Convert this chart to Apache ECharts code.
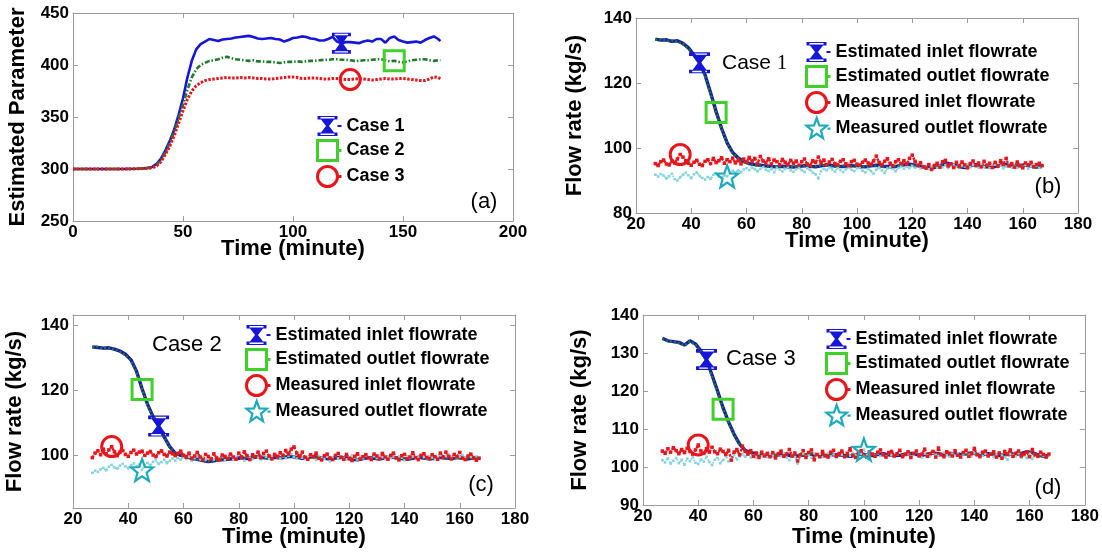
<!DOCTYPE html>
<html>
<head>
<meta charset="utf-8">
<script src="https://cdn.jsdelivr.net/npm/echarts@6/dist/echarts.min.js"></script>
<style>
html,body{margin:0;padding:0;background:#fff;}
#chart{width:1102px;height:552px;}
</style>
</head>
<body>
<div id="chart"></div>
<script>
// ---------- (a) estimated parameter for three cases ----------
const timeA = [0,10,20,30,33,36,38,40,42,44,46,48,50,52,54,56,58,60,62,64,66,68,70,72,74,76,78,80,82,84,86,88,90,92,94,96,98,100,102,104,106,108,110,112,114,116,118,120,122,124,126,128,130,132,134,136,138,140,142,144,146,148,150,152,154,156,158,160,162,164,166,167];
const case1 = [300,300,300,300.3,300.8,
  302,305,310,318,327,338,352,368,388,404,415,420,422.5,
  425,424,423,424.5,425,425.5,426.5,427,427.5,428,
  427,425.5,425,425.5,426,425,424.5,422.5,424,426,
  426.5,427.5,427,425.5,425,423.5,423.5,425,427,422.5,
  421,422,422,421.5,421,422.5,423.5,422.5,425,425,
  421.5,426,427.5,424,422.5,421.5,422,422.5,421.5,424,
  426,427.5,425,
  423];
const case2 = [300,300,300,300.2,300.6,
  301.5,304,309,316,325,336,349,362,376,388,396,400,402,
  404,404.5,405.5,407,408,406.5,405.5,405,404.5,404,
  404.5,403.5,403.5,403,403,402.5,402,402.5,403,403,
  403.5,403,403.5,404,404,404.5,405,405,405.5,405.5,
  405,405,404.5,404,404,404.5,404.5,405,405.5,405.5,
  404.5,403.5,404,403,402.5,403.5,404.5,405,405.5,405.5,
  404.5,404,404.5,
  404.5];
const case3 = [300,300,300,300.2,300.5,
  301,303,307,314,322,332,344,356,367,375,380,383,385,
  386,386.5,387,387.5,388,387.5,387.5,388,387.5,388,
  387.5,387,387,386.5,386.5,387,387.5,388,388.5,388.5,
  388,387,387,387.5,387.5,387,386.5,386.5,387,387,
  386.5,386,386,386.5,387,386.5,386,385.5,386,386.5,
  387,386.5,386.5,387,387,386.5,386,385.5,385,385,
  386.5,388.5,388,
  387];

// ---------- (b)-(d) flow rates ----------
const timeEst = [27,29,31,33,35,37,39,41,43,45,47,49,51,53,55,57,59,61,63,65,67,69,71,73,75,77,79,81,83,85,87,89,91,93,95,97,99,101,103,105,107,109,111,113,115,117,119,121,123,125,127,129,131,133,135,137,139,141,143,145,147,149,151,153,155,157,159,161,163,165,167];
const timeMeas = [27,28,29,30,31,32,33,34,35,36,37,38,39,40,41,42,43,44,45,46,47,48,49,50,51,52,53,54,55,56,57,58,59,60,61,62,63,64,65,66,67,68,69,70,71,72,73,74,75,76,77,78,79,80,81,82,83,84,85,86,87,88,89,90,91,92,93,94,95,96,97,98,99,100,101,102,103,104,105,106,107,108,109,110,111,112,113,114,115,116,117,118,119,120,121,122,123,124,125,126,127,128,129,130,131,132,133,134,135,136,137,138,139,140,141,142,143,144,145,146,147,148,149,150,151,152,153,154,155,156,157,158,159,160,161,162,163,164,165,166,167];

// Case 1
const estInletB = [133.5,133.2,133.3,132.8,133.0,132.2,130.8,128.6,126.2,122.5,
  117.0,111.2,106.0,101.6,98.6,96.9,95.9,95.2,94.9,94.7,
  94.5,94.3,94.2,94.4,94.3,94.1,94.3,94.6,94.4,94.2,
  94.5,94.8,94.6,94.4,94.3,94.6,94.5,94.3,94.2,94.5,
  94.7,94.4,94.3,94.1,94.5,94.8,95.0,94.7,94.4,94.1,
  93.8,94.2,94.9,95.3,94.8,94.2,94.0,94.5,94.9,94.6,
  94.2,94.1,94.5,95.0,94.7,94.3,94.6,94.9,94.4,94.1,
  94.3];
const estOutletB = [133.3,133.4,133.0,133.1,132.7,132.0,130.5,128.4,125.9,122.1,
  116.6,110.9,105.7,101.4,98.4,96.8,95.7,95.0,94.7,94.5,
  94.3,94.2,94.4,94.2,94.1,94.3,94.5,94.4,94.2,94.4,
  94.6,94.7,94.4,94.2,94.5,94.4,94.3,94.1,94.4,94.6,
  94.5,94.2,94.1,94.3,94.6,94.9,94.8,94.5,94.2,93.9,
  94.0,94.5,95.1,95.0,94.5,94.1,94.2,94.7,94.8,94.3,
  94.0,94.3,94.7,94.8,94.5,94.4,94.8,94.6,94.2,94.0,
  94.2];
const measInletB = [95.2,94.6,95.8,96.3,95.1,94.8,96.0,95.4,96.6,98.0,
  97.2,96.1,95.3,94.7,95.6,96.2,95.0,94.6,95.9,96.4,
  95.2,96.8,95.5,96.1,97.0,95.3,96.4,95.8,96.9,95.4,
  96.3,95.1,96.6,95.7,97.1,95.9,96.8,95.2,97.4,96.0,
  95.4,96.7,95.1,96.3,95.8,94.9,96.5,95.6,94.8,96.2,
  95.3,96.0,94.7,95.8,96.6,95.0,94.6,96.1,95.5,97.2,
  95.4,96.3,94.9,95.7,96.5,95.2,94.8,95.9,96.4,95.1,
  94.6,95.8,96.2,95.0,94.7,95.6,96.3,95.4,94.9,96.0,
  97.5,95.6,94.8,95.9,96.7,95.3,94.6,95.8,96.4,95.2,
  96.1,95.0,96.8,97.8,95.9,94.7,95.5,94.2,93.8,94.9,
  93.4,94.6,95.3,94.1,95.8,96.2,94.5,95.1,94.0,95.6,
  94.3,95.7,94.8,93.9,95.2,96.0,94.6,95.4,94.2,95.9,
  94.7,95.3,94.0,95.6,94.4,96.1,95.0,96.8,94.5,95.2,
  94.1,95.7,94.6,93.9,95.4,94.8,95.6,94.2,94.9,95.3,
  94.6];
const measOutletB = [91.8,91.2,92.0,91.5,90.6,91.3,92.1,90.4,90.0,91.0,
  91.8,92.4,91.6,90.7,91.9,92.5,91.4,90.8,90.3,91.1,
  90.5,91.7,92.3,91.2,90.9,91.6,91.3,92.2,93.0,92.4,
  93.1,92.6,93.4,93.8,93.2,94.0,93.5,92.8,93.6,94.1,
  93.3,92.9,93.7,92.5,93.9,93.4,92.8,93.6,94.2,93.1,
  92.7,93.5,94.0,93.2,92.6,93.8,93.3,92.4,91.9,90.6,
  92.8,93.7,93.1,94.0,93.4,92.7,93.9,93.2,92.6,93.5,
  94.1,93.3,92.9,93.8,94.2,93.0,92.5,93.6,92.9,92.1,
  93.4,94.0,93.1,92.3,93.7,94.1,93.5,92.8,93.9,94.3,
  93.6,94.2,93.8,94.5,93.9,94.4,93.7,94.6,94.0,93.5,
  94.3,94.8,93.9,94.5,94.1,94.7,93.8,94.4,94.9,94.2,
  93.9,94.6,94.3,95.0,94.1,94.7,94.4,93.9,94.8,94.2,
  94.6,93.8,94.4,94.9,94.1,94.5,93.7,94.3,94.8,94.0,
  94.4,93.9,94.7,94.2,94.8,93.6,94.3,94.9,94.5,93.9,
  94.4];

// Case 2
const estInletC = [133.3,133.1,132.9,133.0,132.6,132.0,131.0,129.3,125.8,120.4,
  115.6,111.8,108.9,105.6,102.6,100.6,99.9,99.5,99.0,98.7,
  98.3,98.0,98.2,98.5,98.6,98.8,99.0,99.1,98.9,99.2,
  99.4,99.2,99.0,99.3,99.1,99.4,99.6,99.3,99.0,99.2,
  99.5,99.3,99.0,98.8,99.1,99.3,99.0,98.7,98.5,98.9,
  99.2,99.0,98.8,99.1,99.4,99.2,98.9,98.7,99.0,99.3,
  99.1,98.8,99.0,99.3,99.1,98.9,99.2,99.0,98.8,99.1,
  99.0];
const estOutletC = [133.1,133.3,132.8,132.9,132.5,131.8,130.7,129.0,125.5,120.2,
  115.3,111.5,108.6,105.3,102.4,100.5,99.8,99.4,98.9,98.6,
  98.2,98.1,98.3,98.4,98.7,98.9,98.9,99.0,99.1,99.3,
  99.3,99.1,99.1,99.2,99.2,99.5,99.5,99.2,99.1,99.3,
  99.4,99.2,98.9,98.9,99.2,99.2,98.9,98.8,98.6,99.0,
  99.1,98.9,98.9,99.2,99.3,99.1,98.8,98.8,99.1,99.2,
  99.0,98.9,99.1,99.2,99.0,99.0,99.1,98.9,98.9,99.0,
  98.9];
const measInletC = [99.2,100.6,101.3,100.1,101.8,100.4,101.6,102.6,101.0,99.8,
  100.9,101.4,100.2,99.6,100.8,101.5,100.3,100.9,101.2,99.9,
  100.6,101.1,100.0,99.5,100.7,101.3,100.2,99.7,100.9,100.4,
  99.8,100.5,101.2,99.9,99.3,100.6,98.9,99.7,100.8,99.4,
  98.6,100.2,99.5,98.8,100.4,99.1,98.5,100.0,99.6,98.9,
  100.3,99.4,98.7,100.6,99.2,101.0,99.8,98.6,100.1,99.5,
  100.9,99.2,100.5,101.2,99.7,98.8,100.2,99.4,100.7,99.9,
  101.4,100.3,101.8,102.5,100.6,99.5,100.9,99.3,98.7,100.1,
  99.4,100.6,99.0,98.5,99.8,100.3,99.1,98.6,99.9,100.5,
  99.3,98.7,100.2,99.0,98.3,99.6,100.4,98.8,99.5,100.1,
  99.2,98.6,100.3,99.7,98.9,100.5,99.4,98.7,99.9,100.6,
  99.1,98.5,99.8,100.2,98.8,99.4,100.7,99.2,98.6,99.9,
  100.4,99.3,98.9,100.1,99.5,98.7,100.6,99.2,100.9,99.6,
  98.8,100.2,99.4,100.8,99.0,98.6,99.7,100.3,99.1,98.4,
  99.0];
const measOutletC = [94.5,95.2,94.8,95.6,96.1,95.3,96.4,97.0,96.2,95.8,
  96.7,97.3,96.5,95.9,96.8,97.4,96.6,97.1,95.4,96.9,
  97.6,96.8,97.9,98.4,97.2,97.8,98.6,97.5,98.2,98.9,
  98.3,99.1,98.6,99.4,98.8,99.5,98.2,99.0,99.6,98.7,
  99.3,98.5,99.8,99.1,98.6,99.4,98.9,99.7,98.4,99.2,
  99.9,98.8,99.5,100.1,99.0,98.3,99.6,99.1,98.7,99.8,
  99.2,98.6,99.9,99.4,98.8,99.7,100.2,99.3,98.9,99.6,
  99.0,99.8,100.3,99.5,98.9,99.6,99.2,98.7,99.4,99.9,
  99.1,98.5,99.7,99.2,98.8,99.5,98.1,99.3,99.8,99.0,
  99.6,99.1,98.7,99.4,99.9,99.2,98.6,99.5,99.0,99.7,
  99.2,98.8,99.6,99.1,99.8,99.3,98.7,99.5,99.0,99.4,
  98.9,99.6,99.2,98.4,99.7,99.1,99.5,98.8,99.3,99.9,
  99.4,99.0,99.6,99.2,98.7,99.5,99.9,99.1,99.6,100.2,
  99.3,99.8,99.0,99.5,100.0,99.2,99.7,99.4,99.1,99.6,
  99.3];

// Case 3
const estInletD = [133.9,133.2,133.0,132.8,132.1,133.2,132.4,130.5,128.3,124.2,
  120.0,115.6,111.8,108.6,106.0,104.4,103.8,103.5,103.2,103.1,
  103.0,103.2,103.3,103.1,102.9,103.0,103.2,103.4,103.1,102.9,
  103.1,103.3,103.2,103.0,102.8,103.1,103.4,103.2,103.0,103.3,
  103.5,103.2,103.0,103.1,103.4,103.6,103.3,103.1,103.4,103.7,
  103.5,103.2,103.4,103.6,103.3,103.5,103.7,103.4,103.2,103.5,
  103.3,103.0,103.2,103.5,103.3,103.6,104.0,103.8,103.2,102.8,
  103.1];
const estOutletD = [133.7,133.1,132.9,132.6,132.0,133.0,132.2,130.2,127.9,123.8,
  119.6,115.2,111.5,108.3,105.8,104.3,103.7,103.4,103.1,103.0,
  103.1,103.1,103.2,103.0,103.0,103.1,103.3,103.3,103.0,103.0,
  103.2,103.2,103.1,102.9,102.9,103.2,103.3,103.1,103.1,103.4,
  103.4,103.1,103.1,103.2,103.3,103.5,103.2,103.2,103.3,103.6,
  103.4,103.3,103.3,103.5,103.4,103.4,103.6,103.3,103.3,103.4,
  103.2,103.1,103.3,103.4,103.4,103.5,103.8,103.6,103.1,102.9,
  103.0];
const measInletD = [104.2,103.6,104.8,103.9,105.1,104.3,103.5,104.6,103.8,104.9,
  104.1,103.4,104.5,105.8,104.2,103.6,104.8,103.9,105.2,104.0,
  103.5,104.7,104.1,103.3,104.4,101.8,103.9,104.6,103.2,105.5,
  104.1,103.4,104.3,102.8,103.7,102.5,103.9,102.9,103.6,102.7,
  103.8,102.4,103.5,104.2,102.8,103.4,104.6,102.9,103.7,101.6,
  103.2,104.3,102.5,103.8,104.5,101.9,103.3,102.7,104.1,103.0,
  102.6,103.9,104.4,102.8,103.5,104.2,102.7,103.6,104.8,103.1,
  102.5,103.7,104.3,103.0,102.6,104.0,103.4,102.8,103.9,104.5,
  103.2,102.6,103.8,104.1,102.9,103.5,104.4,102.7,103.3,104.0,
  102.5,103.6,104.2,102.9,103.4,104.7,102.8,103.5,104.1,102.6,
  105.0,103.2,102.7,104.0,103.6,102.9,104.3,103.1,102.6,103.8,
  104.4,102.8,103.5,104.9,103.2,102.7,103.9,104.2,102.9,103.4,
  104.0,102.6,103.7,102.3,104.1,103.3,104.5,102.8,103.6,104.2,
  102.9,103.4,104.0,102.7,104.6,103.2,102.8,103.9,103.3,102.6,
  103.4];
const measOutletD = [101.8,101.2,102.3,100.9,101.6,102.4,101.0,101.9,100.6,102.2,
  101.5,102.6,101.1,100.8,102.0,101.4,102.7,101.3,100.5,101.9,
  102.4,101.0,101.8,102.9,101.5,102.2,103.1,102.0,102.8,103.4,
  102.7,103.3,102.5,103.0,102.4,103.6,102.8,103.2,102.6,103.5,
  103.0,102.3,103.4,102.8,103.7,102.5,101.8,103.1,102.6,100.9,
  102.9,103.5,102.7,103.2,102.4,103.6,102.9,103.4,102.6,103.1,
  103.7,102.8,103.3,102.5,103.9,103.2,102.7,103.5,103.0,103.6,
  103.1,103.8,103.4,104.6,103.2,102.7,103.5,103.0,103.6,102.9,
  103.3,102.8,103.7,103.1,102.6,103.4,103.8,102.9,103.2,103.6,
  102.7,103.3,103.9,103.0,102.5,103.5,103.1,102.8,103.7,103.2,
  102.9,103.4,103.8,103.1,102.7,103.5,103.0,103.6,102.8,103.3,
  103.9,103.2,102.8,103.6,103.1,103.7,102.9,103.4,103.0,103.5,
  102.7,103.3,103.8,103.0,102.6,101.9,103.4,103.1,102.8,103.6,
  102.4,103.0,102.3,103.5,102.1,103.2,102.8,103.4,102.9,102.6,
  103.1];

// Tick values
const ticksAX = [0,50,100,150,200];
const ticksAY = [250,300,350,400,450];
const ticksFlowX = [20,40,60,80,100,120,140,160,180];
const ticksBY = [80,100,120,140];
const ticksCY = [100,120,140];
const ticksDY = [90,100,110,120,130,140];

// Legend names
const caseNames = ['Case 1','Case 2','Case 3'];
const flowNames = ['Estimated inlet flowrate','Estimated outlet flowrate','Measured inlet flowrate','Measured outlet flowrate'];

// ---------- styling ----------
const FONT = "'Liberation Sans', Arial, Helvetica, sans-serif";
const GREY = '#9c9c9c';
const BLUE = '#1616d8';
const BLUE_EST = '#1a1ab0';
const GREEN_LINE = '#1f7a2a';
const GREEN_MARK = '#3fd12a';
const RED = '#e8161c';
const CYAN_LINE = '#86d4de';
const CYAN_MARK = '#1eaabb';

const HOURGLASS = 'path://M0,0H20V3.5H16.5L11.5,10L16.5,16.5H20V20H0V16.5H3.5L8.5,10L3.5,3.5H0Z M3,1.1V2.4H17V1.1Z M3,17.6V18.9H17V17.6Z';
const HOURGLASS_L = HOURGLASS + ' M20,9.1H24V10.9H20Z';
const SQUARE_L = 'path://M0,0H20V20H0Z M21,10H24';
const CIRCLE_L = 'path://M0,10A10,10,0,1,1,20,10A10,10,0,1,1,0,10Z M21,10H24';
const STAR = 'path://M10.5,0L13.09,6.94L20.49,7.26L14.68,11.86L16.67,18.99L10.5,14.9L4.33,18.99L6.32,11.86L0.51,7.26L7.91,6.94Z';
const STAR_L = STAR + ' M21,10H24';

const hollow = (c, w) => ({color: 'rgba(0,0,0,0)', borderColor: c, borderWidth: w});

const grids = [
  {left: 73,  top: 13,  width: 440, height: 208},
  {left: 636, top: 18,  width: 442, height: 195},
  {left: 73,  top: 315, width: 442, height: 193},
  {left: 643, top: 315, width: 444, height: 190}
];
const panels = [
  {x: [0, 200], y: [250, 450], xt: ticksAX, yt: ticksAY, yName: 'Estimated Parameter', yGap: 44, xGap: 17},
  {x: [20, 180], y: [80, 140], xt: ticksFlowX, yt: ticksBY, yName: 'Flow rate (kg/s)', yGap: 50, xGap: 17},
  {x: [20, 180], y: [83.7, 143.1], xt: ticksFlowX, yt: ticksCY, yName: 'Flow rate (kg/s)', yGap: 47, xGap: 18},
  {x: [20, 180], y: [90, 140], xt: ticksFlowX, yt: ticksDY, yName: 'Flow rate (kg/s)', yGap: 52, xGap: 21}
];

const tickStyle = vals => ({show: true, inside: true, length: 5, customValues: vals, lineStyle: {color: GREY, width: 1}});
const lineStyleAxis = {show: true, onZero: false, lineStyle: {color: GREY, width: 1}};
const labelStyle = {fontSize: 17, fontWeight: 'bold', color: '#000', fontFamily: FONT};
const nameStyle = {fontSize: 22, fontWeight: 'bold', color: '#000', fontFamily: FONT};

const xAxis = [], yAxis = [];
panels.forEach((p, i) => {
  xAxis.push({
    type: 'value', gridIndex: i, position: 'bottom', min: p.x[0], max: p.x[1],
    name: 'Time (minute)', nameLocation: 'middle', nameGap: p.xGap, nameMoveOverlap: false,
    nameTextStyle: nameStyle,
    axisLine: lineStyleAxis, axisTick: tickStyle(p.xt),
    axisLabel: Object.assign({customValues: p.xt, margin: 3}, labelStyle),
    splitLine: {show: false}
  });
  yAxis.push({
    type: 'value', gridIndex: i, position: 'left', min: p.y[0], max: p.y[1],
    name: p.yName, nameLocation: 'middle', nameGap: p.yGap, nameMoveOverlap: false,
    nameTextStyle: nameStyle,
    axisLine: lineStyleAxis, axisTick: tickStyle(p.yt),
    axisLabel: Object.assign({customValues: p.yt, margin: 4}, labelStyle),
    splitLine: {show: false}
  });
});
// box edges on the top and right with inward ticks
panels.forEach((p, i) => {
  xAxis.push({type: 'value', gridIndex: i, position: 'top', min: p.x[0], max: p.x[1],
    axisLine: lineStyleAxis, axisTick: tickStyle(p.xt), axisLabel: {show: false}, splitLine: {show: false}});
  yAxis.push({type: 'value', gridIndex: i, position: 'right', min: p.y[0], max: p.y[1],
    axisLine: lineStyleAxis, axisTick: tickStyle(p.yt), axisLabel: {show: false}, splitLine: {show: false}});
});

const zip = (t, v) => t.map((x, k) => [x, v[k]]);

function lineSeries(name, gi, t, v, ls, mark, dots) {
  const s = {
    type: 'line', name, xAxisIndex: gi, yAxisIndex: gi, data: zip(t, v),
    symbol: 'none', showSymbol: false, silent: true, animation: false,
    lineStyle: ls
  };
  if (dots) {
    s.symbol = 'rect';
    s.showSymbol = true;
    s.showAllSymbol = true;
    s.symbolSize = dots.size;
    s.itemStyle = {color: dots.color, borderWidth: 0};
  }
  if (mark) {
    s.markPoint = {
      symbol: mark.symbol, symbolSize: mark.size, silent: true, animation: false,
      label: {show: false}, itemStyle: mark.style,
      data: [{coord: [t[mark.idx], v[mark.idx]]}]
    };
  }
  return s;
}

const series = [];
// (a)
series.push(lineSeries('Case 1', 0, timeA, case1, {color: BLUE, width: 2.6},
  {symbol: HOURGLASS, size: [19, 21], idx: 48, style: {color: BLUE}}));
series.push(lineSeries('Case 2', 0, timeA, case2, {color: GREEN_LINE, width: 2.6, type: [5, 2, 1.5, 2]},
  {symbol: 'rect', size: 20, idx: 60, style: hollow(GREEN_MARK, 3)}));
series.push(lineSeries('Case 3', 0, timeA, case3, {color: RED, width: 3, type: [2.5, 1.5]},
  {symbol: 'circle', size: 20, idx: 50, style: hollow(RED, 3)}));

// (b)-(d)
const flowSets = [
  {gi: 1, estIn: estInletB, estOut: estOutletB, mIn: measInletB, mOut: measOutletB, mk: [8, 11, 9, 26]},
  {gi: 2, estIn: estInletC, estOut: estOutletC, mIn: measInletC, mOut: measOutletC, mk: [12, 9, 7, 18]},
  {gi: 3, estIn: estInletD, estOut: estOutletD, mIn: measInletD, mOut: measOutletD, mk: [8, 11, 13, 73]}
];
flowSets.forEach(f => {
  series.push(lineSeries(flowNames[3], f.gi, timeMeas, f.mOut, {color: CYAN_LINE, width: 2, type: [1.5, 1.5]},
    {symbol: STAR, size: 22, idx: f.mk[3], style: hollow(CYAN_MARK, 2.2)},
    {size: 2.5, color: CYAN_LINE}));
  series.push(lineSeries(flowNames[0], f.gi, timeEst, f.estIn, {color: BLUE_EST, width: 3.4},
    {symbol: HOURGLASS, size: [21, 21], idx: f.mk[0], style: {color: BLUE}}));
  series.push(lineSeries(flowNames[1], f.gi, timeEst, f.estOut, {color: GREEN_LINE, width: 2.4, type: [2, 2]},
    {symbol: 'rect', size: 20, idx: f.mk[1], style: hollow(GREEN_MARK, 3)}));
  series.push(lineSeries(flowNames[2], f.gi, timeMeas, f.mIn, {color: RED, width: 2.4, type: [2.5, 1.5]},
    {symbol: 'circle', size: 20, idx: f.mk[2], style: hollow(RED, 3)},
    {size: 3.5, color: RED}));
});

const legendText = {fontSize: 18, fontWeight: 'bold', color: '#000', fontFamily: FONT, lineHeight: 20};
function legendAt(left, top, names, icons) {
  return {
    left, top, orient: 'vertical', padding: 0, itemWidth: 24, itemHeight: 20, itemGap: 3,
    selectedMode: false, symbolKeepAspect: false, textStyle: legendText,
    data: names.map((n, k) => Object.assign({name: n}, icons[k]))
  };
}
const caseIcons = [
  {icon: HOURGLASS_L, itemStyle: {color: BLUE, borderWidth: 0}},
  {icon: SQUARE_L, itemStyle: hollow(GREEN_MARK, 3)},
  {icon: CIRCLE_L, itemStyle: hollow(RED, 3)}
];
const flowIcons = [
  {icon: HOURGLASS_L, itemStyle: {color: BLUE, borderWidth: 0}},
  {icon: SQUARE_L, itemStyle: hollow(GREEN_MARK, 3)},
  {icon: CIRCLE_L, itemStyle: hollow(RED, 3)},
  {icon: STAR_L, itemStyle: hollow(CYAN_MARK, 2.2)}
];

const legend = [
  legendAt(316, 116, caseNames, caseIcons),
  legendAt(805, 42, flowNames, flowIcons),
  legendAt(245, 325, flowNames, flowIcons),
  legendAt(825, 329, flowNames, flowIcons)
];

function txt(x, y, text, size, align, rich) {
  return {
    type: 'text', x, y, silent: true,
    style: {text, font: size + 'px ' + FONT, fill: '#000',
      align: align, verticalAlign: 'middle', textAlign: align, textVerticalAlign: 'middle', rich}
  };
}
const caseRich = {
  s: {fontSize: 21, fontFamily: FONT, fill: '#000'},
  n: {fontSize: 21, fontFamily: "'Liberation Serif', 'Times New Roman', serif", fill: '#000'}
};
const graphic = [
  txt(722, 63, '{s|Case }{n|1}', 21, 'left', caseRich),
  txt(152, 345, 'Case 2', 22, 'left'),
  txt(726, 359, 'Case 3', 22, 'left'),
  txt(484, 202, '(a)', 22, 'center'),
  txt(1048, 187, '(b)', 22, 'center'),
  txt(481, 485, '(c)', 22, 'center'),
  txt(1048, 488, '(d)', 22, 'center')
];

const chart = echarts.init(document.getElementById('chart'), null, {renderer: 'canvas', width: 1102, height: 552});
chart.setOption({
  animation: false,
  backgroundColor: '#fff',
  grid: grids,
  xAxis, yAxis, series, legend, graphic
});
</script>
</body>
</html>
